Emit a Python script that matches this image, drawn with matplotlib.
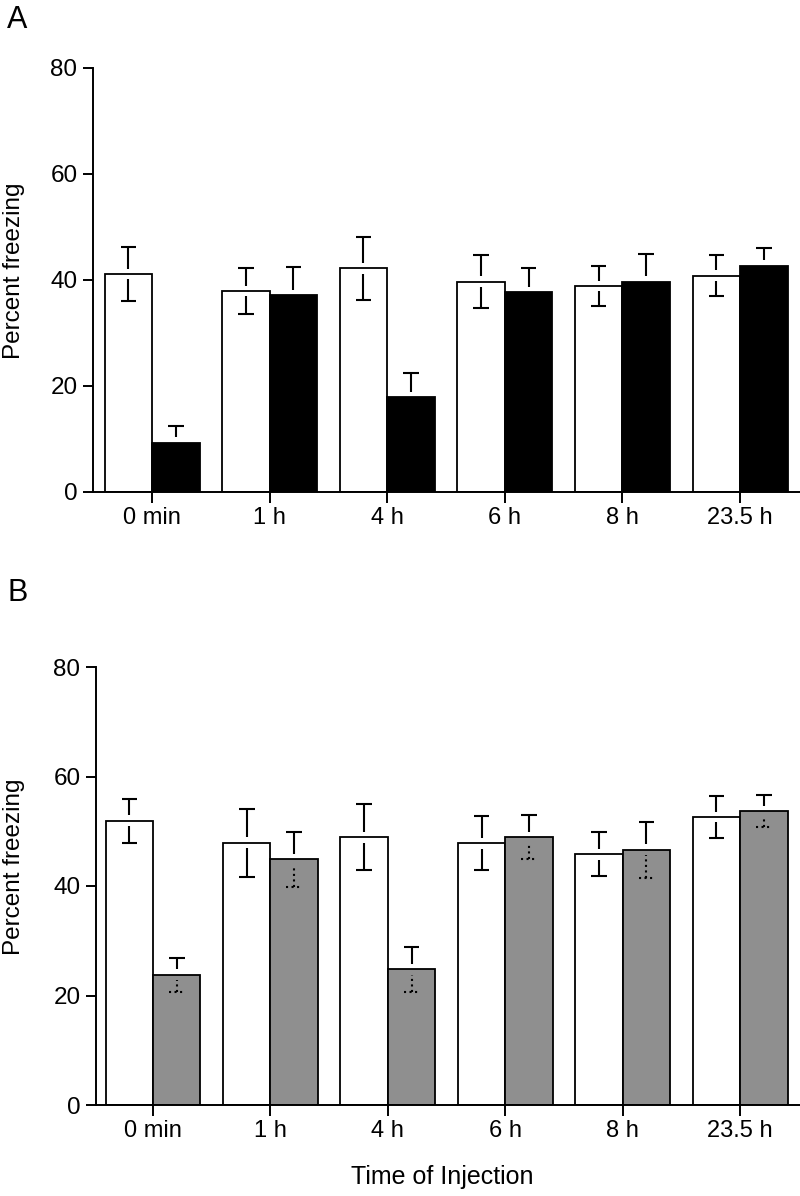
import matplotlib
matplotlib.use("Agg")
import matplotlib.pyplot as plt
import numpy as np

plt.rcParams['font.family'] = ['Liberation Sans', 'DejaVu Sans']

categories = ["0 min", "1 h", "4 h", "6 h", "8 h", "23.5 h"]

# Panel A
a_ctrl = [41.1, 37.9, 42.2, 39.7, 38.9, 40.8]
a_ctrl_err = [5.1, 4.3, 6.0, 5.0, 3.8, 3.9]
a_drug = [9.3, 37.2, 17.9, 37.7, 39.7, 42.7]
a_drug_err = [3.1, 5.2, 4.5, 4.5, 5.2, 3.3]

# Panel B
b_ctrl = [51.9, 47.9, 48.9, 47.8, 45.8, 52.6]
b_ctrl_err = [4.0, 6.2, 6.0, 4.9, 4.0, 3.9]
b_drug = [23.8, 44.9, 24.8, 48.9, 46.6, 53.7]
b_drug_err = [3.1, 5.0, 4.1, 4.0, 5.1, 2.9]

yticks = [0, 20, 40, 60, 80]

W, H = 800, 1196
fig = plt.figure(figsize=(W / 100, H / 100), dpi=100)

def px_axes(left, right, top, bottom):
    return fig.add_axes([left / W, 1 - bottom / H, (right - left) / W, (bottom - top) / H])

BW = 0.404
CAP = 0.066
GAP = 1.0

def draw_err(ax, xs, vals, errs, lower_style='-'):
    xs = np.asarray(xs, float)
    vals = np.asarray(vals, float)
    errs = np.asarray(errs, float)
    ax.vlines(xs, vals + GAP, vals + errs, colors='black', lw=1.5, zorder=4)
    ax.hlines(vals + errs, xs - CAP, xs + CAP, colors='black', lw=1.5, zorder=4)
    ax.vlines(xs, vals - errs, vals - GAP, colors='black', lw=1.5, zorder=4,
              linestyles=lower_style)
    ax.hlines(vals - errs, xs - CAP, xs + CAP, colors='black', lw=1.5, zorder=4,
              linestyles=lower_style)

def panel(ax, ctrl, ctrl_err, drug, drug_err, drug_color, xlim_left, lower_style, label_xy):
    x = np.arange(len(categories))
    ax.bar(x - BW / 2, ctrl, BW, color='white', edgecolor='black', linewidth=1.3, zorder=2)
    ax.bar(x + BW / 2, drug, BW, color=drug_color, edgecolor='black', linewidth=1.3, zorder=2)
    draw_err(ax, x - BW / 2, ctrl, ctrl_err)
    draw_err(ax, x + BW / 2, drug, drug_err, lower_style)
    ax.set_ylim(0, 80)
    ax.set_xlim(xlim_left, 5.51)
    ax.set_yticks(yticks)
    ax.set_yticklabels([str(t) for t in yticks], fontsize=17.5)
    ax.set_xticks(x)
    ax.set_xticklabels(categories, fontsize=17)
    ax.spines['top'].set_visible(False)
    ax.spines['right'].set_visible(False)
    ax.spines['left'].set_linewidth(1.4)
    ax.spines['bottom'].set_linewidth(1.4)
    ax.tick_params(axis='y', length=7.2, width=1.4, pad=4)
    ax.tick_params(axis='x', length=8, width=1.4, pad=3)
    ax.set_ylabel("Percent freezing", fontsize=17.5)
    ax.yaxis.set_label_coords(*label_xy)
    ax.patch.set_alpha(0)

axA = px_axes(93, 800, 68, 492)
panel(axA, a_ctrl, a_ctrl_err, a_drug, a_drug_err, 'black', -0.502, '-',
      ((25 - 93) / 707, 0.521))

axB = px_axes(96, 800, 667, 1105)
panel(axB, b_ctrl, b_ctrl_err, b_drug, b_drug_err, '#8f8f8f', -0.486, ':',
      ((25 - 96) / 704, 0.544))

fig.text(7 / W, 1 - 20 / H, "A", fontsize=22, va='center', ha='left')
fig.text(7 / W, 1 - 593 / H, "B", fontsize=22, va='center', ha='left')
fig.text(442 / W, 1 - 1177 / H, "Time of Injection", fontsize=18, va='center', ha='center')

fig.savefig("out.png", dpi=100)
